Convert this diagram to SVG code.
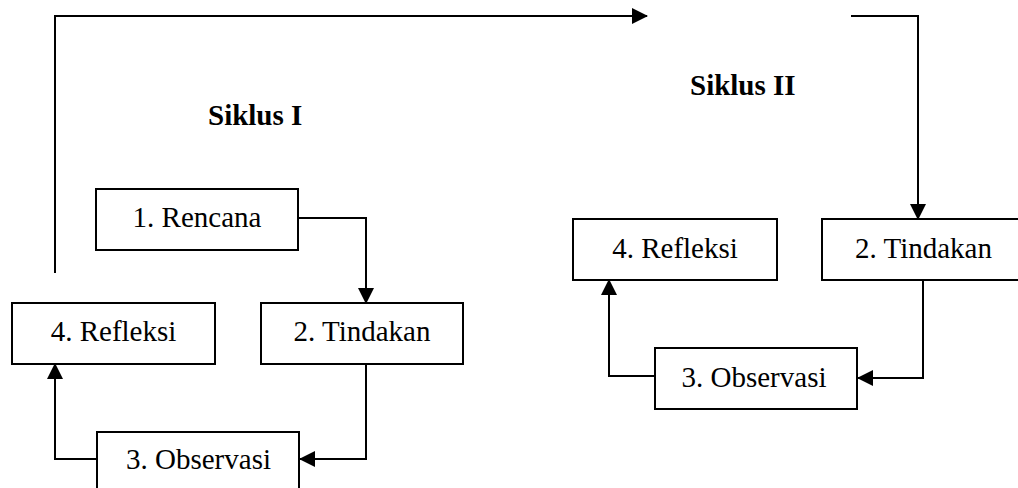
<svg xmlns="http://www.w3.org/2000/svg" width="1018" height="488" viewBox="0 0 1018 488">
<style>
.box{fill:#fff;stroke:#000;stroke-width:2}
.lbl{font-family:"Liberation Serif","Times New Roman",serif;font-size:29px;fill:#000;text-anchor:middle}
.ttl{font-family:"Liberation Serif","Times New Roman",serif;font-size:29px;font-weight:bold;fill:#000}
.con{fill:none;stroke:#000;stroke-width:2}
</style>
<defs>
<marker id="arr" viewBox="0 0 16 16" markerWidth="16" markerHeight="16" refX="15" refY="8" orient="auto" markerUnits="userSpaceOnUse">
<path d="M0,0 L16,8 L0,16 z" fill="#000"/>
</marker>
</defs>
<rect width="1018" height="488" fill="#fff"/>
<text class="ttl" x="208" y="125">Siklus I</text>
<text class="ttl" x="690" y="95">Siklus II</text>
<g id="connectors">
<path class="con" d="M55,273 V16 H647" marker-end="url(#arr)"/>
<path class="con" d="M851,16 H918 V219" marker-end="url(#arr)"/>
<path class="con" d="M298,218 H366 V303" marker-end="url(#arr)"/>
<path class="con" d="M366,364 V459 H300" marker-end="url(#arr)"/>
<path class="con" d="M97,459 H55 V364" marker-end="url(#arr)"/>
<path class="con" d="M923,280 V378 H858" marker-end="url(#arr)"/>
<path class="con" d="M655,376 H609 V280" marker-end="url(#arr)"/>
</g>
<g id="s1-rencana"><rect class="box" x="96" y="189" width="202" height="61"/><text class="lbl" x="197" y="227">1. Rencana</text></g>
<g id="s1-refleksi"><rect class="box" x="12" y="303" width="203" height="61"/><text class="lbl" x="113.5" y="341">4. Refleksi</text></g>
<g id="s1-tindakan"><rect class="box" x="261" y="303" width="202" height="61"/><text class="lbl" x="362" y="341">2. Tindakan</text></g>
<g id="s1-observasi"><rect class="box" x="97" y="432" width="202" height="61"/><text class="lbl" x="198.5" y="469">3. Observasi</text></g>
<g id="s2-refleksi"><rect class="box" x="573" y="219" width="204" height="61"/><text class="lbl" x="675" y="258">4. Refleksi</text></g>
<g id="s2-tindakan"><rect class="box" x="822" y="219" width="203" height="61"/><text class="lbl" x="923.5" y="258">2. Tindakan</text></g>
<g id="s2-observasi"><rect class="box" x="655" y="348" width="202" height="61"/><text class="lbl" x="754" y="387">3. Observasi</text></g>
</svg>
